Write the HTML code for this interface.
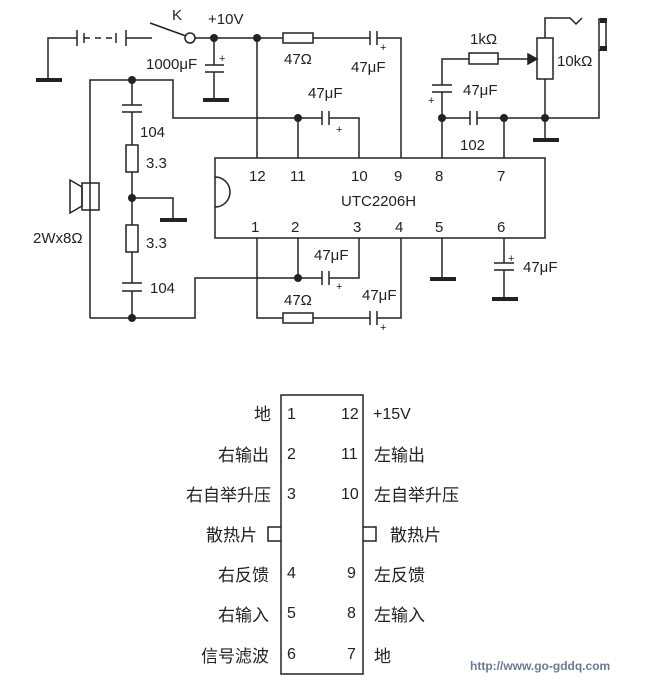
<!DOCTYPE html>
<html><head><meta charset="utf-8"><style>
html,body{margin:0;padding:0;background:#fff;}
svg{display:block}
text{font-family:"Liberation Sans","Noto Sans CJK SC",sans-serif;fill:#222}
</style></head><body>
<svg width="650" height="680" viewBox="0 0 650 680" xmlns="http://www.w3.org/2000/svg">
<g stroke="#222" stroke-width="1.5" fill="none">
<polyline points="48,80 48,38 77,38"/>
<line x1="77" y1="30" x2="77" y2="46"/><line x1="84" y1="33" x2="84" y2="43"/>
<line x1="84" y1="38" x2="116" y2="38" stroke-dasharray="6,5"/>
<line x1="116" y1="33" x2="116" y2="43"/><line x1="126" y1="30" x2="126" y2="46"/>
<line x1="126" y1="38" x2="152" y2="38"/>
<line x1="150" y1="23" x2="186" y2="36"/>
<circle cx="190" cy="38" r="5" fill="#fff"/>
<line x1="195" y1="38" x2="283" y2="38"/>
<rect x="283" y="33" width="30" height="10"/>
<line x1="313" y1="38" x2="370" y2="38"/>
<line x1="370" y1="31" x2="370" y2="45"/><line x1="377" y1="31" x2="377" y2="45"/>
<polyline points="377,38 401,38 401,158"/>
<line x1="214" y1="38" x2="214" y2="65"/>
<line x1="205" y1="65" x2="224" y2="65"/><line x1="205" y1="72" x2="224" y2="72"/>
<line x1="214" y1="72" x2="214" y2="100"/>
<line x1="257" y1="38" x2="257" y2="158"/>
<rect x="215" y="158" width="330" height="80"/>
<path d="M215,177 A15,15 0 0 1 215,207"/>
<line x1="298" y1="118" x2="298" y2="158"/>
<polyline points="90,318 90,80 173,80 173,118 322,118"/>
<line x1="322" y1="111" x2="322" y2="125"/><line x1="329" y1="111" x2="329" y2="125"/>
<polyline points="329,118 359,118 359,158"/>
<line x1="132" y1="80" x2="132" y2="105"/>
<line x1="122" y1="105" x2="142" y2="105"/><line x1="122" y1="112" x2="142" y2="112"/>
<line x1="132" y1="112" x2="132" y2="145"/>
<rect x="126" y="145" width="12" height="27"/>
<line x1="132" y1="172" x2="132" y2="225"/>
<polyline points="132,198 173,198 173,220"/>
<rect x="126" y="225" width="12" height="27"/>
<line x1="132" y1="252" x2="132" y2="283"/>
<line x1="122" y1="283" x2="142" y2="283"/><line x1="122" y1="291" x2="142" y2="291"/>
<line x1="132" y1="291" x2="132" y2="318"/>
<polyline points="90,318 195,318 195,278 322,278"/>
<line x1="322" y1="271" x2="322" y2="285"/><line x1="329" y1="271" x2="329" y2="285"/>
<polyline points="329,278 359,278 359,238"/>
<line x1="298" y1="238" x2="298" y2="278"/>
<rect x="82" y="183" width="17" height="27"/>
<polygon points="82,187 70,180 70,213 82,206"/>
<polyline points="257,238 257,318 283,318"/>
<rect x="283" y="313" width="30" height="10"/>
<line x1="313" y1="318" x2="370" y2="318"/>
<line x1="370" y1="311" x2="370" y2="325"/><line x1="377" y1="311" x2="377" y2="325"/>
<polyline points="377,318 401,318 401,238"/>
<line x1="442" y1="238" x2="442" y2="278"/>
<line x1="504" y1="238" x2="504" y2="263"/>
<line x1="494" y1="263" x2="514" y2="263"/><line x1="494" y1="270" x2="514" y2="270"/>
<line x1="504" y1="270" x2="504" y2="298"/>
<line x1="442" y1="158" x2="442" y2="92"/>
<line x1="432" y1="85" x2="452" y2="85"/><line x1="432" y1="92" x2="452" y2="92"/>
<polyline points="442,85 442,59 469,59"/>
<rect x="469" y="53" width="29" height="11"/>
<line x1="498" y1="59" x2="532" y2="59"/>
<polygon points="537,59 528,54 528,64" fill="#222"/>
<rect x="537" y="38" width="16" height="41"/>
<polyline points="545,38 545,18 570,18 576,24 582,18"/>
<line x1="545" y1="79" x2="545" y2="140"/>
<line x1="442" y1="118" x2="470" y2="118"/>
<line x1="470" y1="111" x2="470" y2="125"/><line x1="477" y1="111" x2="477" y2="125"/>
<polyline points="477,118 599,118 599,50"/>
<line x1="504" y1="118" x2="504" y2="158"/>
<rect x="599" y="19" width="7" height="31"/>
<rect x="281" y="395" width="82" height="279"/>
<polyline points="281,527 268,527 268,541 281,541"/>
<polyline points="363,527 376,527 376,541 363,541"/>
</g>
<g fill="#222">
<rect x="600" y="18" width="7" height="5"/><rect x="600" y="46" width="7" height="5"/>
<rect x="36" y="78" width="26" height="4"/>
<rect x="203" y="98" width="26" height="4"/>
<rect x="160" y="218" width="27" height="4"/>
<rect x="430" y="277" width="26" height="4"/>
<rect x="492" y="297" width="26" height="4"/>
<rect x="533" y="138" width="26" height="4"/>
<circle cx="214" cy="38" r="4"/><circle cx="257" cy="38" r="4"/>
<circle cx="132" cy="80" r="4"/><circle cx="298" cy="118" r="4"/>
<circle cx="132" cy="198" r="4"/><circle cx="132" cy="318" r="4"/>
<circle cx="298" cy="278" r="4"/><circle cx="442" cy="118" r="4"/>
<circle cx="504" cy="118" r="4"/><circle cx="545" cy="118" r="4"/>
</g>
<g font-size="15">
<text x="172" y="20">K</text>
<text x="208" y="24">+10V</text>
<text x="146" y="69">1000μF</text>
<text x="219" y="62" font-size="11">+</text>
<text x="284" y="64">47Ω</text>
<text x="351" y="72">47μF</text>
<text x="380" y="51" font-size="11">+</text>
<text x="308" y="98">47μF</text>
<text x="336" y="133" font-size="11">+</text>
<text x="140" y="137">104</text>
<text x="146" y="168">3.3</text>
<text x="146" y="248">3.3</text>
<text x="150" y="293">104</text>
<text x="33" y="243">2Wx8Ω</text>
<text x="284" y="305">47Ω</text>
<text x="314" y="260">47μF</text>
<text x="336" y="290" font-size="11">+</text>
<text x="362" y="300">47μF</text>
<text x="380" y="331" font-size="11">+</text>
<text x="470" y="44">1kΩ</text>
<text x="557" y="66">10kΩ</text>
<text x="463" y="95">47μF</text>
<text x="428" y="104" font-size="11">+</text>
<text x="460" y="150">102</text>
<text x="523" y="272">47μF</text>
<text x="508" y="262" font-size="11">+</text>
<text x="249" y="181">12</text><text x="290" y="181">11</text>
<text x="351" y="181">10</text><text x="394" y="181">9</text>
<text x="435" y="181">8</text><text x="497" y="181">7</text>
<text x="341" y="206">UTC2206H</text>
<text x="251" y="232">1</text><text x="291" y="232">2</text>
<text x="353" y="232">3</text><text x="395" y="232">4</text>
<text x="435" y="232">5</text><text x="497" y="232">6</text>
</g>
<g font-size="16">
<text x="287" y="419">1</text><text x="341" y="419">12</text>
<text x="287" y="459">2</text><text x="341" y="459">11</text>
<text x="287" y="499">3</text><text x="341" y="499">10</text>
<text x="287" y="578">4</text><text x="347" y="578">9</text>
<text x="287" y="618">5</text><text x="347" y="618">8</text>
<text x="287" y="659">6</text><text x="347" y="659">7</text>
<text x="373" y="419">+15V</text>
</g>
<g font-size="17">
<text x="271" y="420" text-anchor="end">地</text>
<text x="269" y="461" text-anchor="end">右输出</text>
<text x="271" y="501" text-anchor="end">右自举升压</text>
<text x="257" y="541" text-anchor="end">散热片</text>
<text x="269" y="581" text-anchor="end">右反馈</text>
<text x="269" y="621" text-anchor="end">右输入</text>
<text x="269" y="662" text-anchor="end">信号滤波</text>
<text x="374" y="461">左输出</text>
<text x="374" y="501">左自举升压</text>
<text x="390" y="541">散热片</text>
<text x="374" y="581">左反馈</text>
<text x="374" y="621">左输入</text>
<text x="374" y="662">地</text>
</g>
<text x="470" y="670" font-size="12" font-weight="bold" style="fill:#6a7a90">http://www.go-gddq.com</text>
</svg>
</body></html>
